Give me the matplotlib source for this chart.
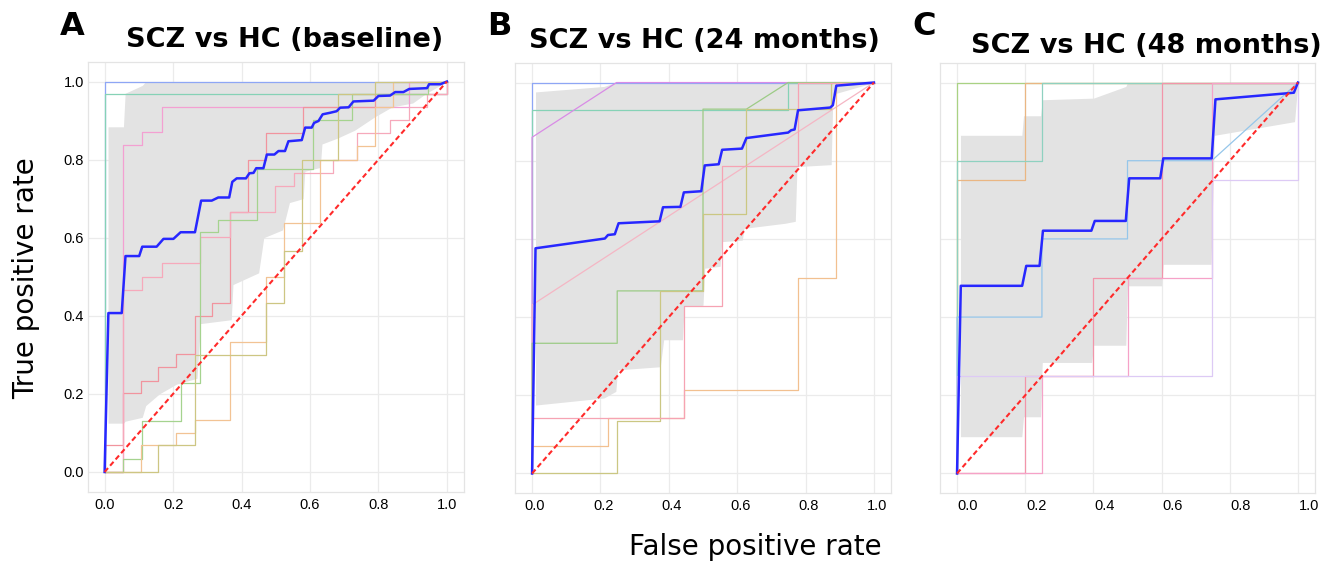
import matplotlib
matplotlib.use('Agg')
import matplotlib.pyplot as plt
from matplotlib.transforms import ScaledTranslation

plt.rcParams['font.family'] = 'Liberation Sans'

# ---- panel A: SCZ vs HC (baseline) ----
a_mean_fpr = [0, 0.011, 0.050, 0.061, 0.101, 0.110, 0.152, 0.172, 0.201, 0.222, 0.264, 0.282,
              0.313, 0.332, 0.364, 0.373, 0.386, 0.413, 0.423, 0.435, 0.443, 0.464, 0.474,
              0.496, 0.508, 0.527, 0.537, 0.576, 0.586, 0.605, 0.612, 0.625, 0.637, 0.659,
              0.678, 0.688, 0.713, 0.727, 0.786, 0.800, 0.834, 0.849, 0.873, 0.890, 0.942,
              0.948, 0.981, 1.0]
a_mean_tpr = [0, 0.407, 0.407, 0.553, 0.553, 0.577, 0.577, 0.597, 0.597, 0.614, 0.614, 0.695,
              0.695, 0.703, 0.703, 0.743, 0.752, 0.752, 0.765, 0.766, 0.778, 0.778, 0.813,
              0.813, 0.822, 0.822, 0.847, 0.850, 0.882, 0.882, 0.894, 0.899, 0.916, 0.920,
              0.924, 0.933, 0.934, 0.949, 0.951, 0.963, 0.964, 0.973, 0.973, 0.981, 0.983,
              0.993, 0.993, 1.0]
a_band_fpr = [0.01, 0.055, 0.06, 0.11, 0.12, 0.16, 0.21, 0.27, 0.28, 0.37, 0.375, 0.45, 0.465,
              0.52, 0.54, 0.58, 0.585, 0.63, 0.635, 0.68, 0.73, 0.79, 0.84, 0.9, 0.94, 1.0]
a_band_lo = [0.125, 0.125, 0.13, 0.14, 0.17, 0.2, 0.225, 0.24, 0.38, 0.39, 0.48, 0.51, 0.6,
             0.62, 0.69, 0.7, 0.77, 0.78, 0.84, 0.855, 0.875, 0.91, 0.935, 0.945, 0.97, 1.0]
a_band_hi = [0.884, 0.884, 0.97, 0.99, 1.0, 1.0, 1.0, 1.0, 1.0, 1.0, 1.0, 1.0, 1.0,
             1.0, 1.0, 1.0, 1.0, 1.0, 1.0, 1.0, 1.0, 1.0, 1.0, 1.0, 1.0, 1.0]
a_fold_fpr = [
    [0, 0, 1],
    [0, 0, 1, 1],
    [0, 0.055, 0.055, 0.11, 0.11, 0.167, 0.167, 0.888, 0.888, 1],
    [0, 0, 0.055, 0.055, 0.105, 0.105, 0.157, 0.157, 0.21, 0.21, 0.264, 0.264, 0.315, 0.315,
     0.366, 0.366, 0.42, 0.42, 0.472, 0.472, 0.579, 0.579, 0.79, 0.79, 1, 1],
    [0, 0.055, 0.055, 0.11, 0.11, 0.167, 0.167, 0.279, 0.279, 0.366, 0.366, 0.498, 0.498,
     0.554, 0.554, 0.667, 0.667, 0.737, 0.737, 0.834, 0.834, 0.888, 0.888, 0.942, 0.942, 1, 1],
    [0, 0.055, 0.055, 0.11, 0.11, 0.222, 0.222, 0.279, 0.279, 0.332, 0.332, 0.444, 0.444,
     0.61, 0.61, 0.722, 0.722, 0.946, 0.946, 1],
    [0, 0.105, 0.105, 0.21, 0.21, 0.264, 0.264, 0.366, 0.366, 0.472, 0.472, 0.524, 0.524,
     0.63, 0.63, 0.737, 0.737, 0.79, 0.79, 0.842, 0.842, 1],
    [0, 0.157, 0.157, 0.264, 0.264, 0.472, 0.472, 0.524, 0.524, 0.576, 0.576, 0.683, 0.683,
     0.79, 0.79, 1],
]
a_fold_tpr = [
    [0, 1, 1],
    [0, 0.969, 0.969, 1],
    [0, 0, 0.837, 0.837, 0.871, 0.871, 0.935, 0.935, 1, 1],
    [0, 0.068, 0.068, 0.202, 0.202, 0.234, 0.234, 0.269, 0.269, 0.301, 0.301, 0.4, 0.4, 0.434,
     0.434, 0.667, 0.667, 0.8, 0.8, 0.869, 0.869, 0.935, 0.935, 0.969, 0.969, 1],
    [0, 0, 0.466, 0.466, 0.5, 0.5, 0.535, 0.535, 0.601, 0.601, 0.667, 0.667, 0.733, 0.733,
     0.766, 0.766, 0.8, 0.8, 0.867, 0.867, 0.901, 0.901, 0.935, 0.935, 0.969, 0.969, 1],
    [0, 0, 0.034, 0.034, 0.13, 0.13, 0.228, 0.228, 0.614, 0.614, 0.645, 0.645, 0.775, 0.775,
     0.901, 0.901, 0.969, 0.969, 1, 1],
    [0, 0, 0.068, 0.068, 0.1, 0.1, 0.134, 0.134, 0.333, 0.333, 0.5, 0.5, 0.637, 0.637, 0.8,
     0.8, 0.835, 0.835, 0.935, 0.935, 1, 1],
    [0, 0, 0.068, 0.068, 0.3, 0.3, 0.432, 0.432, 0.567, 0.567, 0.8, 0.8, 0.969, 0.969, 1, 1],
]

# ---- panel B: SCZ vs HC (24 months) ----
b_mean_fpr = [0, 0.010, 0.213, 0.222, 0.242, 0.253, 0.373, 0.383, 0.434, 0.444, 0.495, 0.505,
              0.546, 0.556, 0.614, 0.627, 0.749, 0.758, 0.768, 0.778, 0.872, 0.880, 0.890, 1.0]
b_mean_tpr = [0, 0.576, 0.601, 0.610, 0.612, 0.640, 0.645, 0.681, 0.682, 0.719, 0.722, 0.788,
              0.791, 0.828, 0.831, 0.858, 0.872, 0.878, 0.880, 0.929, 0.936, 0.942, 0.992, 1.0]
b_band_fpr = [0.01, 0.21, 0.245, 0.25, 0.375, 0.385, 0.44, 0.445, 0.5, 0.505, 0.55, 0.555,
              0.615, 0.62, 0.74, 0.77, 0.775, 0.875, 0.88, 1.0]
b_band_lo = [0.175, 0.193, 0.21, 0.265, 0.273, 0.342, 0.342, 0.427, 0.43, 0.525, 0.53, 0.593,
             0.597, 0.627, 0.64, 0.645, 0.785, 0.79, 0.97, 1.0]
b_band_hi = [0.976, 0.99, 1.0, 1.0, 1.0, 1.0, 1.0, 1.0, 1.0, 1.0, 1.0, 1.0,
             1.0, 1.0, 1.0, 1.0, 1.0, 1.0, 0.995, 1.0]
b_fold_fpr = [
    [0, 0, 1],
    [0, 0, 0.749, 0.749, 1],
    [0, 0, 0.247, 1],
    [0, 0, 1],
    [0, 0, 0.249, 0.249, 0.5, 0.5, 0.627, 0.749, 1],
    [0, 0.249, 0.249, 0.375, 0.375, 0.5, 0.5, 0.627, 0.627, 0.875, 0.875, 1],
    [0, 0, 0.222, 0.222, 0.444, 0.444, 0.778, 0.778, 0.89, 0.89, 1],
    [0, 0, 0.444, 0.444, 0.556, 0.556, 0.778, 0.778, 1],
]
b_fold_tpr = [
    [0, 1, 1],
    [0, 0.929, 0.929, 1, 1],
    [0, 0.86, 1, 1],
    [0, 0.431, 1],
    [0, 0.333, 0.333, 0.467, 0.467, 0.932, 0.932, 1, 1],
    [0, 0, 0.135, 0.135, 0.467, 0.467, 0.665, 0.665, 0.932, 0.932, 1, 1],
    [0, 0.071, 0.071, 0.141, 0.141, 0.214, 0.214, 0.499, 0.499, 1, 1],
    [0, 0.141, 0.141, 0.428, 0.428, 0.786, 0.786, 1, 1],
]

# ---- panel C: SCZ vs HC (48 months) ----
c_mean_fpr = [0, 0.011, 0.191, 0.203, 0.242, 0.252, 0.394, 0.404, 0.495, 0.505, 0.596, 0.605,
              0.747, 0.758, 0.988, 1.0]
c_mean_tpr = [0, 0.480, 0.480, 0.531, 0.531, 0.621, 0.621, 0.646, 0.646, 0.755, 0.755, 0.806,
              0.806, 0.957, 0.974, 1.0]
c_band_fpr = [0.01, 0.19, 0.195, 0.245, 0.25, 0.395, 0.4, 0.495, 0.5, 0.6, 0.605, 0.745,
              0.755, 0.99, 1.0]
c_band_lo = [0.094, 0.094, 0.145, 0.145, 0.284, 0.284, 0.328, 0.328, 0.48, 0.48, 0.535, 0.535,
             0.865, 0.9, 1.0]
c_band_hi = [0.865, 0.865, 0.915, 0.915, 0.956, 0.96, 0.96, 0.99, 1.0, 1.0, 1.0, 1.0,
             1.0, 1.0, 1.0]
c_fold_fpr = [
    [0, 0, 1],
    [0, 0, 0.199, 0.199, 1],
    [0, 0, 0.249, 0.249, 1],
    [0, 0, 0.249, 0.249, 0.5, 0.5, 0.747, 1],
    [0, 0.199, 0.199, 0.399, 0.399, 0.6, 0.6, 1],
    [0, 0.249, 0.249, 0.5, 0.5, 0.749, 0.749, 1],
    [0, 0, 0.749, 0.749, 1, 1],
]
c_fold_tpr = [
    [0, 1, 1],
    [0, 0.75, 0.75, 1, 1],
    [0, 0.8, 0.8, 1, 1],
    [0, 0.4, 0.4, 0.6, 0.6, 0.8, 0.8, 1],
    [0, 0, 0.25, 0.25, 0.5, 0.5, 1, 1],
    [0, 0, 0.25, 0.25, 0.5, 0.5, 1, 1],
    [0, 0.25, 0.25, 0.75, 0.75, 1],
]

titles = ['SCZ vs HC (baseline)', 'SCZ vs HC (24 months)', 'SCZ vs HC (48 months)']
letters = ['A', 'B', 'C']
ticks = [0, 0.2, 0.4, 0.6, 0.8, 1.0]
tick_labels = ['0.0', '0.2', '0.4', '0.6', '0.8', '1.0']

# colores de las curvas finitas (una por fold)
a_cols = ['#8ea6f5', '#86d2b6', '#f3a0d2', '#f1949e', '#f6a9bb', '#a5d38f', '#f2c394', '#cdc683']
b_cols = ['#8ea6f5', '#86d2b6', '#d98be6', '#f5b6c4', '#9ccb86', '#cbc783', '#f2c090', '#f6a3b3']
c_cols = ['#a9d283', '#eab683', '#8fd1c0', '#95c6ea', '#f295aa', '#f6a2c8', '#ddcaf5']

panels = [
    (a_mean_fpr, a_mean_tpr, a_band_fpr, a_band_lo, a_band_hi, a_fold_fpr, a_fold_tpr, a_cols),
    (b_mean_fpr, b_mean_tpr, b_band_fpr, b_band_lo, b_band_hi, b_fold_fpr, b_fold_tpr, b_cols),
    (c_mean_fpr, c_mean_tpr, c_band_fpr, c_band_lo, c_band_hi, c_fold_fpr, c_fold_tpr, c_cols),
]

W, H = 1336, 567
fig = plt.figure(figsize=(W / 100, H / 100), dpi=100)

# posiciones de los ejes en pixeles (izq, der, arriba, abajo)
boxes = [(87.5, 464, 62, 491.5), (515, 891, 63, 493), (940, 1315, 63, 493)]
title_pos = [(285, 47), (704.5, 48), (1146.7, 53)]
letter_pos = [(60, 35), (487, 35), (912, 35)]
label_shift = [0, 3, 11]

for i, (bx, pn) in enumerate(zip(boxes, panels)):
    l, r, t, b = bx
    ax = fig.add_axes([l / W, 1 - b / H, (r - l) / W, (b - t) / H])
    mfpr, mtpr, bfpr, blo, bhi, ffpr, ftpr, cols = pn

    ax.fill_between(bfpr, blo, bhi, color='#e3e3e3', lw=0, zorder=1)
    for fx, fy, c in zip(ffpr, ftpr, cols):
        ax.plot(fx, fy, color=c, lw=0.9, zorder=2)
    ax.plot(mfpr, mtpr, color='#2727ff', lw=1.8, zorder=4)
    ax.plot([0, 1], [0, 1], color='#ff2a2a', lw=1.5, ls=(0, (2.5, 1.5)), zorder=5)

    ax.set_xlim(-0.05, 1.05)
    ax.set_ylim(-0.05, 1.05)
    ax.set_xticks(ticks)
    ax.set_xticklabels(tick_labels)
    ax.set_yticks(ticks)
    if i == 0:
        ax.set_yticklabels(tick_labels)
    else:
        ax.set_yticklabels([])
    ax.tick_params(length=0, labelsize=10.5, colors='black')
    ax.tick_params(axis='x', pad=4.5)
    ax.tick_params(axis='y', pad=2.5)
    ax.grid(True, color='#ebebeb', lw=0.9)
    ax.set_axisbelow(True)
    for s in ax.spines.values():
        s.set_color('#e4e4e4')
        s.set_linewidth(0.9)
    if label_shift[i]:
        for lab in ax.get_xticklabels():
            lab.set_transform(lab.get_transform() +
                              ScaledTranslation(label_shift[i] / 100, 0, fig.dpi_scale_trans))

    tx, ty = title_pos[i]
    fig.text(tx / W, 1 - ty / H, titles[i], ha='center', va='baseline',
             fontsize=19.5, fontweight='bold', family='DejaVu Sans')
    lx, ly = letter_pos[i]
    fig.text(lx / W, 1 - ly / H, letters[i], ha='left', va='baseline',
             fontsize=23, fontweight='bold', family='DejaVu Sans')

fig.text(755 / W, 1 - 555 / H, 'False positive rate', ha='center', va='baseline',
         fontsize=20, family='DejaVu Sans')
fig.text(26 / W, 1 - 278 / H, 'True positive rate', ha='center', va='center',
         rotation=90, fontsize=20, family='DejaVu Sans')

fig.savefig('out.png', dpi=100)
